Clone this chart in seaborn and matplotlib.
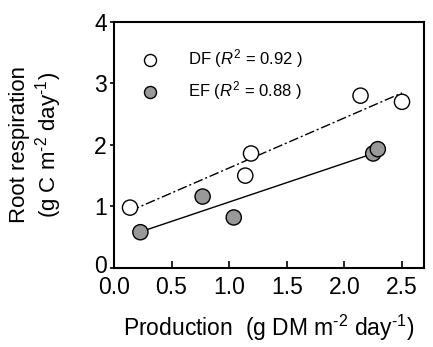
import numpy as np
import pandas as pd
import matplotlib
matplotlib.use('Agg')
import matplotlib.pyplot as plt
import matplotlib.transforms as mtransforms
import seaborn as sns

# values
df_x = [0.14, 1.14, 1.19, 2.14, 2.50]
df_y = [0.98, 1.50, 1.86, 2.80, 2.70]
ef_x = [0.23, 0.77, 1.04, 2.25, 2.29]
ef_y = [0.58, 1.16, 0.82, 1.86, 1.93]
x_ticks = [0.0, 0.5, 1.0, 1.5, 2.0, 2.5]
y_ticks = [0, 1, 2, 3, 4]

data = pd.concat([
    pd.DataFrame({'x': df_x, 'y': df_y, 'site': 'DF'}),
    pd.DataFrame({'x': ef_x, 'y': ef_y, 'site': 'EF'}),
])

sns.set_style('ticks')
plt.rcParams['font.family'] = ['Liberation Sans', 'DejaVu Sans']
plt.rcParams['mathtext.fontset'] = 'custom'
plt.rcParams['mathtext.rm'] = 'Liberation Sans'
plt.rcParams['mathtext.it'] = 'Liberation Sans:italic'
for key in ['text.color', 'axes.labelcolor', 'xtick.color', 'ytick.color', 'axes.edgecolor']:
    plt.rcParams[key] = 'black'

fig, ax = plt.subplots(figsize=(4.33, 3.47), dpi=100)
fig.subplots_adjust(left=0.263, right=0.979, top=0.937, bottom=0.228)

# regression lines
for site, ls in [('DF', (0, (7, 2, 1.5, 2))), ('EF', '-')]:
    sub = data[data['site'] == site]
    k, b = np.polyfit(sub['x'], sub['y'], 1)
    xs = np.array([sub['x'].min(), sub['x'].max()])
    ax.plot(xs, k * xs + b, color='black', lw=1, linestyle=ls, zorder=1)

sns.scatterplot(data=data, x='x', y='y', hue='site', palette={'DF': 'white', 'EF': '#999999'},
                edgecolor='black', linewidth=1, s=120, ax=ax, zorder=3, legend=False)

h1 = ax.scatter([], [], s=75, facecolor='white', edgecolor='black', linewidth=1)
h2 = ax.scatter([], [], s=75, facecolor='#999999', edgecolor='black', linewidth=1)
ax.legend([h1, h2], ['DF ($R^2$ = 0.92 )', 'EF ($R^2$ = 0.88 )'], loc='upper left',
          bbox_to_anchor=(0.04, 0.925), frameon=False, fontsize=12, handletextpad=1.3,
          labelspacing=0.55, borderaxespad=0)

ax.set_xlim(0, 2.69)
ax.set_ylim(0, 4)
ax.set_xticks(x_ticks)
ax.set_xticklabels([f'{t:.1f}' for t in x_ticks])
ax.set_yticks(y_ticks)
ax.tick_params(axis='x', direction='in', length=5, width=1.2, labelsize=16.5, pad=6)
ax.tick_params(axis='y', direction='out', length=3, width=1.2, labelsize=16.5, pad=2)
for sp in ax.spines.values():
    sp.set_visible(True)
    sp.set_linewidth(1.5)

# the "0" on the y axis sits a little higher, clear of the "0.0"
lab0 = ax.get_yticklabels()[0]
lab0.set_transform(lab0.get_transform() + mtransforms.ScaledTranslation(0, 3 / 72, fig.dpi_scale_trans))

ax.set_xlabel(r'Production  (g DM m$^{\text{-2}}$ day$^{\text{-1}}$)', fontsize=16.5, labelpad=10)
ax.set_ylabel('Root respiration\n' + r'(g C m$^{\text{-2}}$ day$^{\text{-1}}$)', fontsize=16,
              labelpad=22, linespacing=1.1)

fig.savefig('out.png', dpi=100)
